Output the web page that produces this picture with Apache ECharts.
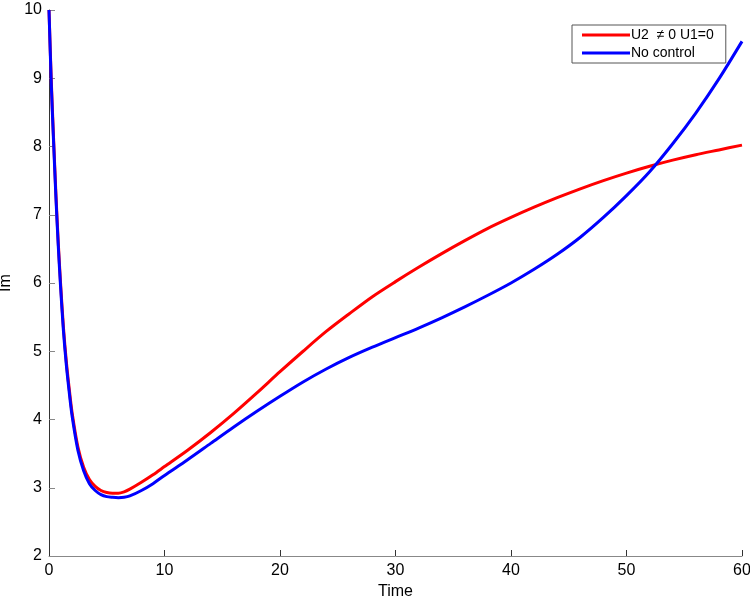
<!DOCTYPE html>
<html>
<head>
<meta charset="utf-8">
<script src="https://cdn.jsdelivr.net/npm/echarts@6/dist/echarts.min.js"></script>
<style>html,body{margin:0;padding:0;background:#fff;}#c{width:750px;height:599px;}</style>
</head>
<body>
<div id="c"></div>
<script>
var time = [0, 0.2, 0.4, 0.6, 0.8, 1.0, 1.25, 1.5, 1.75, 2, 2.5, 3, 3.5, 4, 4.5, 5, 5.5, 6, 6.5, 7, 8, 9, 10, 12, 14, 16, 18, 20, 22, 24, 26, 28, 30, 32, 34, 36, 38, 40, 42, 44, 46, 48, 50, 52, 54, 56, 58, 60];
var controlU2 = [10, 8.95, 8.1, 7.3, 6.6, 6.0, 5.35, 4.85, 4.45, 4.1, 3.6, 3.3, 3.12, 3.02, 2.96, 2.93, 2.92, 2.92, 2.94, 2.98, 3.08, 3.19, 3.31, 3.55, 3.81, 4.09, 4.39, 4.7, 5.0, 5.29, 5.55, 5.8, 6.02, 6.23, 6.43, 6.62, 6.8, 6.96, 7.11, 7.25, 7.38, 7.5, 7.61, 7.71, 7.8, 7.88, 7.95, 8.02];
var noControl = [10, 8.9, 8.05, 7.25, 6.55, 5.95, 5.3, 4.8, 4.4, 4.05, 3.55, 3.25, 3.06, 2.96, 2.9, 2.87, 2.86, 2.855, 2.86, 2.88, 2.96, 3.06, 3.18, 3.41, 3.65, 3.89, 4.12, 4.34, 4.55, 4.74, 4.91, 5.06, 5.2, 5.34, 5.49, 5.65, 5.82, 6.0, 6.2, 6.42, 6.67, 6.96, 7.28, 7.63, 8.04, 8.49, 8.99, 9.54];
var seriesNames = ['U2  \u2260 0 U1=0', 'No control'];
var xTicks = [0, 10, 20, 30, 40, 50, 60];
var yTicks = [2, 3, 4, 5, 6, 7, 8, 9, 10];

function pairs(xs, ys) { return xs.map(function (x, i) { return [x, ys[i]]; }); }

var font = 'Liberation Sans, Arial, Helvetica, sans-serif';
var chart = echarts.init(document.getElementById('c'), null, {renderer: 'canvas'});
chart.setOption({
  animation: false,
  backgroundColor: '#ffffff',
  grid: {left: 49, right: 8, top: 10, bottom: 43, containLabel: false, outerBoundsMode: 'none'},
  legend: {
    data: seriesNames,
    orient: 'vertical',
    left: 572, top: 25,
    padding: [2, 12, 2, 10],
    itemGap: 2,
    itemWidth: 48, itemHeight: 3,
    icon: 'rect',
    borderColor: '#555', borderWidth: 1,
    backgroundColor: '#fff',
    textStyle: {fontFamily: font, fontSize: 14, color: '#000', lineHeight: 16, padding: [0,0,0,-4]}
  },
  xAxis: {
    type: 'value', min: xTicks[0], max: xTicks[xTicks.length - 1], interval: 10,
    name: 'Time', nameLocation: 'middle', nameGap: 26,
    nameTextStyle: {fontFamily: font, fontSize: 16, color: '#000'},
    axisLine: {lineStyle: {color: '#888', width: 1}},
    axisTick: {inside: true, length: 6, lineStyle: {color: '#333'}},
    axisLabel: {fontFamily: font, fontSize: 16, color: '#000', margin: 7},
    splitLine: {show: false}
  },
  yAxis: {
    type: 'value', min: yTicks[0], max: yTicks[yTicks.length - 1], interval: 1,
    name: 'Im', nameLocation: 'middle', nameGap: 32,
    nameTextStyle: {fontFamily: font, fontSize: 16, color: '#000'},
    axisLine: {show: true, lineStyle: {color: '#333', width: 1}},
    axisTick: {show: true, inside: true, length: 6, lineStyle: {color: '#888'}},
    axisLabel: {fontFamily: font, fontSize: 16, color: '#000', margin: 7},
    splitLine: {show: false}
  },
  series: [
    {name: seriesNames[0], type: 'line', data: pairs(time, controlU2), showSymbol: false, smooth: 0.3,
     lineStyle: {color: '#ff0000', width: 3}, itemStyle: {color: '#ff0000'}},
    {name: seriesNames[1], type: 'line', data: pairs(time, noControl), showSymbol: false, smooth: 0.3,
     lineStyle: {color: '#0000ff', width: 3}, itemStyle: {color: '#0000ff'}}
  ]
});
</script>
</body>
</html>
